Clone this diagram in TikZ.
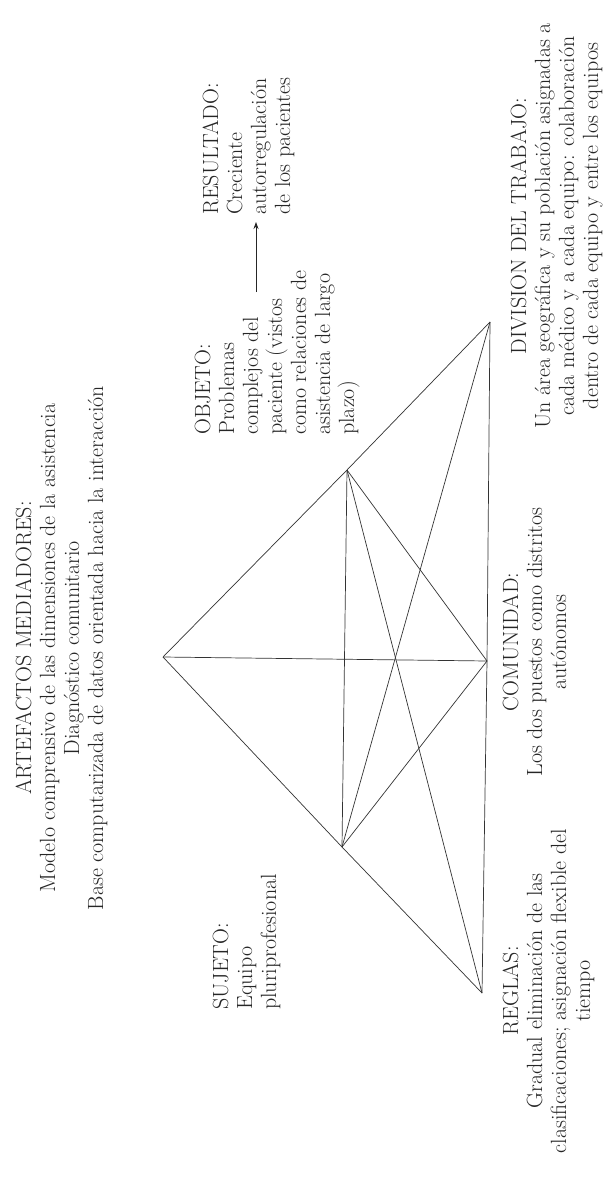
\documentclass[tikz,border=0pt]{standalone}
\usepackage{fontspec}
\usetikzlibrary{arrows.meta}
\begin{document}
\begin{tikzpicture}[x=1pt,y=-1pt,
  edge/.style={draw=black!80, line width=0.7pt},
  lbl/.style={rotate=90, inner sep=0pt, text=black!85,
              font=\fontsize{22}{24}\selectfont\addfontfeatures{FakeBold=2.5}},
  arr/.style={draw=black!85, line width=0.8pt, -{Stealth[length=7pt,width=5pt]}}]
\useasboundingbox[fill=white] (0,0) rectangle (615,1185);
% vertices
\coordinate (A) at (163,657);
\coordinate (O) at (347,470);
\coordinate (D) at (490,322);
\coordinate (C) at (487,661);
\coordinate (S) at (342,847);
\coordinate (R) at (482,993);
% triangle structure
\draw[edge] (A) -- (O) -- (D);
\draw[edge] (A) -- (S) -- (R);
\draw[edge] (D) -- (C) -- (R);
\draw[edge] (A) -- (C);
\draw[edge] (O) -- (S);
\draw[edge] (O) -- (C) -- (S);
\draw[edge] (O) -- (R);
\draw[edge] (S) -- (D);
% labels
\node[lbl, anchor=base] (art) at (31,648) {\begin{tabular}[t]{@{}c@{}}
ARTEFACTOS MEDIADORES:\\
Modelo comprensivo de las dimensiones de la asistencia\\
Diagnóstico comunitario\\
Base computarizada de datos orientada hacia la interacción\end{tabular}};
\node[lbl, anchor=base west] (obj) at (210,435) {\begin{tabular}[t]{@{}l@{}}
OBJETO:\\ Problemas\\ complejos del\\ paciente (vistos\\ como relaciones de\\ asistencia de largo\\ plazo)\end{tabular}};
\node[lbl, anchor=base west] (res) at (218,215) {\begin{tabular}[t]{@{}l@{}}
RESULTADO:\\ Creciente\\ autorregulación\\ de los pacientes\end{tabular}};
\node[lbl, anchor=base west] (suj) at (228,1010) {\begin{tabular}[t]{@{}l@{}}
SUJETO:\\ Equipo\\ pluriprofesional\end{tabular}};
\node[lbl, anchor=base] (com) at (518,642) {\begin{tabular}[t]{@{}c@{}}
COMUNIDAD:\\ Los dos puestos como distritos\\ autónomos\end{tabular}};
\node[lbl, anchor=base] (reg) at (518,991) {\begin{tabular}[t]{@{}c@{}}
REGLAS:\\ Gradual eliminación de las\\ clasificaciones; asignación flexible del\\ tiempo\end{tabular}};
\node[lbl, anchor=base] (div) at (526,226) {\begin{tabular}[t]{@{}c@{}}
DIVISION DEL TRABAJO:\\ Un área geográfica y su población asignadas a\\ cada médico y a cada equipo: colaboración\\ dentro de cada equipo y entre los equipos\end{tabular}};
% arrow object -> result
\coordinate (arrS) at (256,292);
\coordinate (arrE) at (256,222);
\draw[arr] (arrS) -- (arrE);
\end{tikzpicture}
\end{document}
